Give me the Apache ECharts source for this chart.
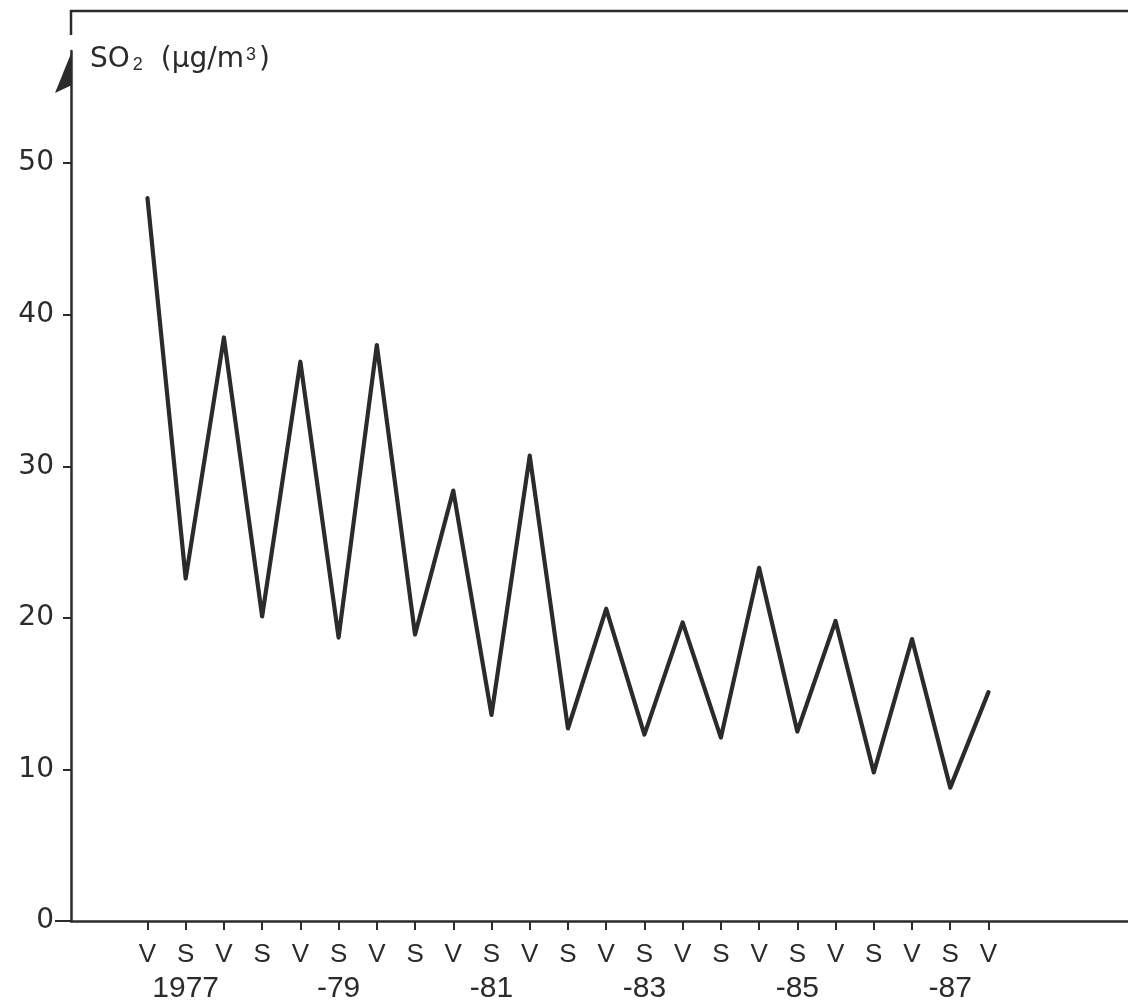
<!DOCTYPE html>
<html>
<head>
<meta charset="utf-8">
<script src="https://cdn.jsdelivr.net/npm/echarts@6/dist/echarts.min.js"></script>
<style>
  html, body { margin: 0; padding: 0; background: #fff; }
  #chart { width: 1128px; height: 1003px; }
</style>
</head>
<body>
<div id="chart"></div>
<script>
// Winter (V) / summer (S) half-year means of SO2, 1976/77 – 1987/88
const seasons = ['V','S','V','S','V','S','V','S','V','S','V','S','V','S','V','S','V','S','V','S','V','S','V'];
const years   = ['','1977','','','','-79','','','','-81','','','','-83','','','','-85','','','','-87',''];
const so2     = [47.7, 22.6, 38.5, 20.1, 36.9, 18.7, 38.0, 18.9, 28.4, 13.6, 30.7, 12.7,
                 20.6, 12.3, 19.7, 12.1, 23.3, 12.5, 19.8, 9.8, 18.6, 8.8, 15.1];
const yTicks  = [0, 10, 20, 30, 40, 50];

const INK = '#2b2b2b';
const FONT = '"Liberation Sans", Arial, sans-serif';
const WIDE = '"DejaVu Sans", sans-serif';
const GRID = { left: 71, top: 51, right: 0, bottom: 82 };
const Y_MAX = 57.4;

// half-years are placed at positions 1..23 along the x axis
const xPos = seasons.map((_, i) => i + 1);
// the leading custom value is swallowed by the axis, so it is repeated
const xTickPos = [xPos[0]].concat(xPos);

const chart = echarts.init(document.getElementById('chart'), null, { renderer: 'canvas' });

chart.setOption({
  backgroundColor: '#fff',
  animation: false,
  title: {
    text: '{m|SO}{sub|2}{gap| }{m|(µg/m}{sup|3}{m|)}',
    left: 85, top: 41,
    textStyle: {
      fontWeight: 'normal',
      rich: {
        m:   { fontFamily: WIDE, fontSize: 28, fontWeight: 'normal', color: INK },
        gap: { fontFamily: WIDE, fontSize: 28, fontWeight: 'normal', color: INK, width: 16 },
        sub: { fontFamily: FONT, fontSize: 18, fontWeight: 'normal', color: INK, verticalAlign: 'bottom', padding: [10, 2, 0, 3] },
        sup: { fontFamily: FONT, fontSize: 18, fontWeight: 'normal', color: INK, verticalAlign: 'top', padding: [0, 3, 8, 2] }
      }
    }
  },
  grid: Object.assign({ outerBoundsMode: 'none', containLabel: false }, GRID),
  xAxis: {
    type: 'value',
    min: -1, max: 26.65,
    splitLine: { show: false },
    axisLine: { onZero: false, lineStyle: { color: INK, width: 2.5 } },
    axisTick: { customValues: xTickPos, length: 9, lineStyle: { color: INK, width: 2 } },
    axisLabel: {
      customValues: xTickPos,
      showMinLabel: true,
      margin: 18,
      color: INK,
      fontFamily: FONT,
      fontSize: 26,
      lineHeight: 32,
      formatter: v => {
        const i = Math.round(v) - 1;
        return years[i] ? seasons[i] + '\n{yr|' + years[i] + '}' : seasons[i];
      },
      rich: {
        yr: { fontFamily: FONT, fontSize: 30, color: INK, lineHeight: 36 }
      }
    }
  },
  yAxis: {
    type: 'value',
    min: 0, max: Y_MAX,
    splitLine: { show: false },
    axisLine: { onZero: false, lineStyle: { color: INK, width: 2.5 } },
    axisTick: { customValues: yTicks, length: 8, lineStyle: { color: INK, width: 2 } },
    axisLabel: {
      customValues: yTicks,
      margin: 17,
      color: INK,
      fontFamily: WIDE,
      fontSize: 28
    }
  },
  series: [{
    type: 'line',
    data: so2.map((v, i) => [xPos[i], v]),
    symbol: 'none',
    lineStyle: { color: INK, width: 4.2, join: 'round', cap: 'round' }
  }]
});

// Frame above the plot, the half arrow heading the y axis and the stub left of the origin
const ax = GRID.left;
const axTop = chart.convertToPixel({ yAxisIndex: 0 }, Y_MAX);
const y0 = chart.convertToPixel({ yAxisIndex: 0 }, 0);
chart.setOption({
  graphic: [
    { type: 'polyline', shape: { points: [[ax, 35], [ax, 11], [1128, 11]] },
      style: { stroke: INK, lineWidth: 2.5, fill: null } },
    { type: 'polygon', shape: { points: [[ax + 1, axTop], [ax - 16, axTop + 42], [ax + 1, axTop + 34]] },
      style: { fill: INK } },
    { type: 'line', shape: { x1: ax - 16, y1: y0, x2: ax, y2: y0 },
      style: { stroke: INK, lineWidth: 2 } }
  ]
});
</script>
</body>
</html>
